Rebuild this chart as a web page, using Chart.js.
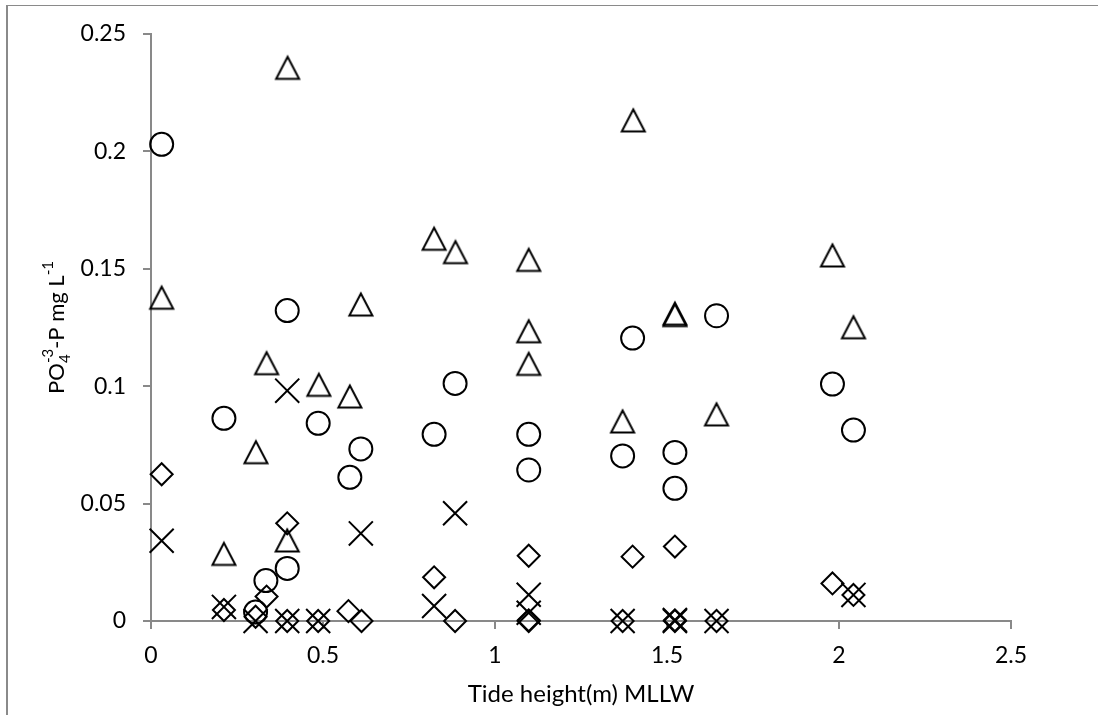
<!DOCTYPE html>
<html>
<head>
<meta charset="utf-8">
<script src="https://cdn.jsdelivr.net/npm/chart.js@4.4.0/dist/chart.umd.min.js"></script>
<style>
html,body{margin:0;padding:0;background:#fff;overflow:hidden}
#wrap{position:relative;width:1098px;height:715px}
#frame{position:absolute;left:6px;top:5px;right:-10px;bottom:-10px;border-left:2px solid #8a8a8a;border-top:1px solid #8a8a8a}
canvas{position:absolute;left:0;top:0}
</style>
</head>
<body>
<div id="wrap"><div id="frame"></div><canvas id="phChart" width="1098" height="715"></canvas></div>
<script>
// ── PO4 vs tide height scatter ──
const circleTide=[0.031,0.212,0.304,0.334,0.396,0.396,0.486,0.578,0.610,0.823,0.884,1.098,1.098,1.371,1.400,1.523,1.523,1.644,1.981,2.042];
const circlePO4=[0.203,0.0863,0.0038,0.0172,0.1322,0.0224,0.0842,0.0612,0.0733,0.0795,0.1012,0.0795,0.0643,0.0703,0.1205,0.0718,0.0565,0.130,0.1009,0.0813];

const triTide=[0.031,0.212,0.305,0.336,0.397,0.396,0.488,0.578,0.610,0.823,0.885,1.098,1.098,1.098,1.371,1.402,1.523,1.523,1.644,1.981,2.042];
const triPO4=[0.1379,0.0288,0.0721,0.110,0.2358,0.0345,0.1008,0.0958,0.135,0.163,0.1573,0.154,0.1236,0.1097,0.0852,0.2134,0.1305,0.1311,0.0882,0.1559,0.1253];

const diaTide=[0.031,0.212,0.304,0.336,0.396,0.396,0.486,0.574,0.612,0.823,0.884,1.098,1.098,1.098,1.371,1.400,1.523,1.523,1.523,1.644,1.981,2.042];
const diaPO4=[0.0625,0.0047,0.0018,0.0104,0.0416,0,0,0.0042,0,0.0186,0,0.0278,0,0.0003,0,0.0274,0.0317,0,0.0003,0,0.016,0.0111];

const crossTide=[0.031,0.212,0.304,0.396,0.396,0.486,0.610,0.823,0.884,1.098,1.098,1.371,1.523,1.523,1.644,2.042];
const crossPO4=[0.0342,0.006,0,0.0981,0,0,0.0373,0.0064,0.0459,0.0112,0.0035,0,0,0.0004,0,0.0111];

const xTicks=[0,0.5,1,1.5,2,2.5];
const yTicks=[0,0.05,0.1,0.15,0.2,0.25];

const AXIS='#898989';
const FONT='Lato';
const pts=(xs,ys)=>xs.map((x,i)=>({x,y:ys[i]}));

// open isosceles triangle (Chart.js' own triangle is equilateral)
function makeTriangle(){
  const c=document.createElement('canvas');
  c.width=28;c.height=28;
  const g=c.getContext('2d');
  g.strokeStyle='#000';g.lineWidth=2;g.lineJoin='miter';
  g.beginPath();g.moveTo(14,3.5);g.lineTo(25.5,25.5);g.lineTo(2.5,25.5);g.closePath();g.stroke();
  return c;
}

// y title with sub/superscripts, drawn rotated
const yTitlePlugin={
  id:'yTitle',
  afterDraw(chart){
    const ctx=chart.ctx,a=chart.chartArea;
    const size=22,small=15;
    const main=size+'px '+FONT,sub=small+'px '+FONT;
    ctx.save();
    ctx.font=main;const wPO=ctx.measureText('PO').width,wMid=ctx.measureText('-P mg L').width;
    ctx.font=sub;const wS=Math.max(ctx.measureText('4').width,ctx.measureText('-3').width),w1=ctx.measureText('-1').width;
    const total=wPO+wS+wMid+w1;
    ctx.translate(64,(a.top+a.bottom)/2);
    ctx.rotate(-Math.PI/2);
    ctx.fillStyle='#000';ctx.textBaseline='alphabetic';ctx.textAlign='left';
    let x=-total/2;
    ctx.font=main;ctx.fillText('PO',x,0);x+=wPO;
    ctx.font=sub;ctx.fillText('4',x,small*0.4);ctx.fillText('-3',x,-size*0.5);x+=wS;
    ctx.font=main;ctx.fillText('-P mg L',x,0);x+=wMid;
    ctx.font=sub;ctx.fillText('-1',x,-size*0.5);
    ctx.restore();
  }
};

const base={showLine:false,clip:false,borderColor:'#000',backgroundColor:'transparent',borderWidth:2,pointBorderWidth:2};
const tickFmt=v=>String(+v.toFixed(2));

new Chart(document.getElementById('phChart'),{
  type:'scatter',
  data:{datasets:[
    {...base,label:'circle',data:pts(circleTide,circlePO4),pointStyle:'circle',pointRadius:11.5},
    {...base,label:'triangle',data:pts(triTide,triPO4),pointStyle:makeTriangle(),pointRadius:12},
    {...base,label:'diamond',data:pts(diaTide,diaPO4),pointStyle:'rectRot',pointRadius:11},
    {...base,label:'cross',data:pts(crossTide,crossPO4),pointStyle:'crossRot',pointRadius:17}
  ]},
  options:{
    responsive:false,animation:false,devicePixelRatio:1,
    layout:{padding:{left:0,top:34,right:87,bottom:0}},
    plugins:{legend:{display:false},tooltip:{enabled:false}},
    scales:{
      x:{type:'linear',min:xTicks[0],max:xTicks[xTicks.length-1],
        afterBuildTicks(s){s.ticks=xTicks.map(v=>({value:v}))},
        ticks:{color:'#000',font:{family:FONT,size:23},padding:13,maxRotation:0,callback:tickFmt},
        grid:{drawOnChartArea:false,color:AXIS,lineWidth:2,tickLength:8},
        border:{color:AXIS,width:2},
        title:{display:true,text:'Tide height(m) MLLW',color:'#000',font:{family:FONT,size:24},padding:{top:0,bottom:6}},
        afterFit(s){s.height=94}},
      y:{type:'linear',min:yTicks[0],max:yTicks[yTicks.length-1],
        afterBuildTicks(s){s.ticks=yTicks.map(v=>({value:v}))},
        ticks:{color:'#000',font:{family:FONT,size:23},padding:17,callback:tickFmt},
        grid:{drawOnChartArea:false,color:AXIS,lineWidth:2,tickLength:8},
        border:{color:AXIS,width:2},
        afterFit(s){s.width=151}}
    }
  },
  plugins:[yTitlePlugin]
});
</script>
</body>
</html>
